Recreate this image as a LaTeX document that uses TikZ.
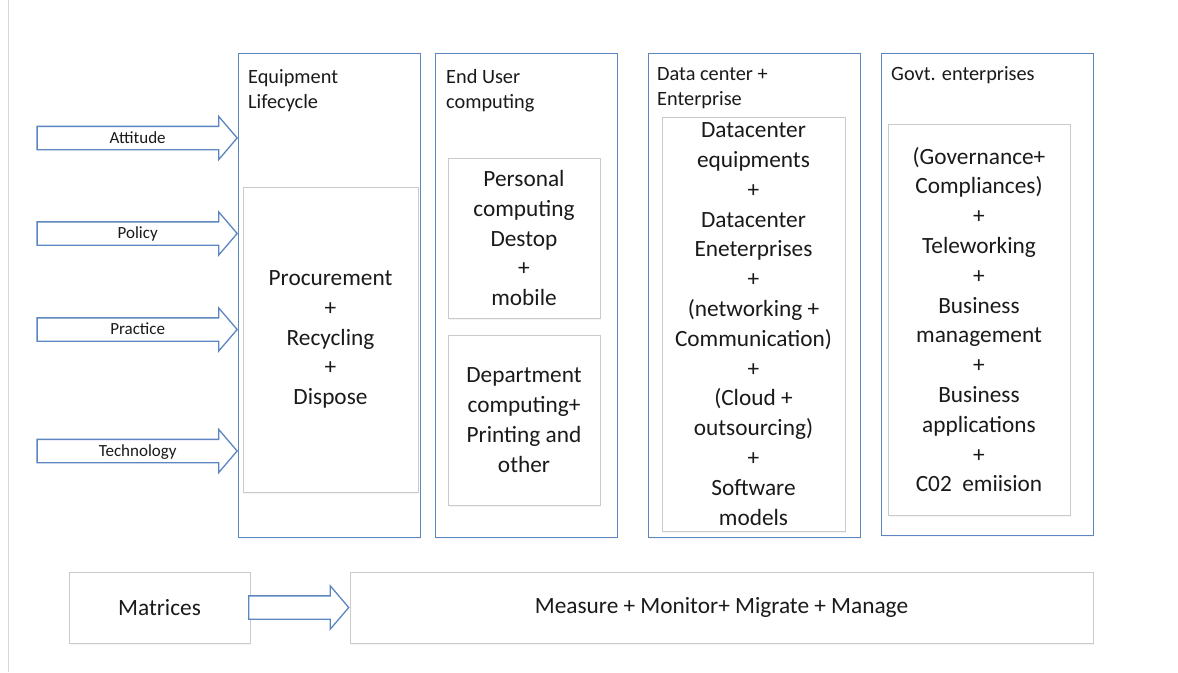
\documentclass[tikz,border=0pt]{standalone}
\usepackage{fontspec}
\setmainfont{Carlito}
\usetikzlibrary{calc,positioning,shapes.arrows,shadows}
\definecolor{gcink}{HTML}{1A1A1A}
\definecolor{gcblue}{HTML}{5B86C0}
\definecolor{gcgray}{HTML}{CACACA}
\definecolor{gcedge}{HTML}{D8D8D8}
\newcommand{\gcbig}{\fontsize{23.3}{29.8}\selectfont}
\newcommand{\gcmid}{\fontsize{20.3}{25.5}\selectfont}
\newcommand{\gcsmall}{\fontsize{17}{20}\selectfont}
\tikzset{
  gc text/.style={font=\gcbig, text=gcink},
  gc shadow/.style={drop shadow={shadow xshift=0.6pt, shadow yshift=-1.8pt,
    fill=gcblue!35, opacity=0.22}},
  gc box/.style={draw=gcblue, line width=1.3pt, fill=white, anchor=north west,
    inner sep=0pt, gc shadow},
  gc inner/.style={draw=gcgray, line width=0.8pt, fill=white, align=center,
    inner sep=0pt, font=\gcbig, gc shadow},
  gc head/.style={anchor=north west, align=left, inner sep=0pt, font=\gcmid},
  gc blockarrow/.style={single arrow, draw=gcblue, line width=1.3pt, fill=white,
    anchor=tip, font=\gcsmall, inner xsep=0pt, inner ysep=0pt,
    text height=16pt, text depth=6pt, minimum width=42pt,
    single arrow head extend=10pt, single arrow tip angle=99}
}

\begin{document}
\begin{tikzpicture}[gc text, x=1pt, y=-1pt]
  \useasboundingbox (0,0) rectangle (1178,672);
  \draw[gcedge, line width=0.8pt] (8,0) -- (8,672);
  \node[gc box, minimum width=182, minimum height=484] (equip) at (238,53) {};
  \node[gc box, minimum width=182, minimum height=484] (enduser) at (435,53) {};
  \node[gc box, minimum width=212, minimum height=484] (dcent) at (648,53) {};
  \node[gc box, minimum width=212, minimum height=482] (govt) at (881,53) {};
  \node[gc head] at ($(equip.north west)+(10,16)$) {Equipment\\Lifecycle};
  \node[gc head] at ($(enduser.north west)+(11,16)$) {End User\\computing};
  \node[gc head] at ($(dcent.north west)+(9,14)$) {Data center +\\Enterprise};
  \node[gc head] at ($(govt.north west)+(10,13)$) {Govt. enterprises};
  \node[gc inner, minimum width=175, minimum height=305] (equipin) at (330.5,339.5)
    {Procurement\\+\\Recycling\\+\\Dispose};
  \node[gc inner, minimum width=152, minimum height=160] (personal) at (524,238)
    {Personal\\computing\\Destop\\+\\mobile};
  \node[gc inner, minimum width=152, minimum height=170] (dept) at (524,420)
    {Department\\computing+\\Printing and\\other};
  \node[gc inner, minimum width=183, minimum height=414] (dcin) at (753.5,324)
    {Datacenter\\equipments\\+\\Datacenter\\Eneterprises\\+\\(networking +\\Communication)\\+\\(Cloud +\\outsourcing)\\+\\Software\\models};
  \node[gc inner, minimum width=182, minimum height=391] (govtin) at (979,319.5)
    {(Governance+\\Compliances)\\+\\Teleworking\\+\\Business\\management\\+\\Business\\applications\\+\\C02~ emiision};
  \node[gc blockarrow, minimum height=200] (attitude) at (equip.west |- 0,138) {\hspace*{11pt}Attitude};
  \node[gc blockarrow, minimum height=200] (policy) at (equip.west |- 0,233.5) {\hspace*{11pt}Policy};
  \node[gc blockarrow, minimum height=200] (practice) at (equip.west |- 0,329.5) {\hspace*{11pt}Practice};
  \node[gc blockarrow, minimum height=200] (technology) at (equip.west |- 0,451) {\hspace*{11pt}Technology};
  \node[gc inner, minimum width=181, minimum height=71] (matrices) at (159.5,607.5) {Matrices};
  \node[gc inner, minimum width=743, minimum height=71] (manage) at (721.5,607.5)
    {Measure + Monitor+ Migrate + Manage};
  \node[gc blockarrow, minimum height=100, minimum width=43] (metric) at (manage.west) {};
\end{tikzpicture}
\end{document}
